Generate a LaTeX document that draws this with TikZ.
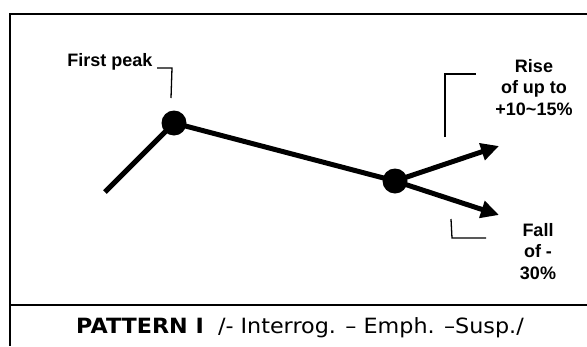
\documentclass[tikz,border=0pt]{standalone}
\usepackage{fontspec}
\newfontfamily\labelfont{Liberation Sans}
\newfontfamily\capfont{DejaVu Sans}[FakeStretch=1.06]
\usetikzlibrary{arrows.meta}
\begin{document}
\begin{tikzpicture}[x=1pt,y=-1pt,
  frame/.style={line width=1.6pt},
  curve/.style={line width=5pt},
  dot/.style={circle,fill=black,minimum size=25pt,inner sep=0pt},
  bracket/.style={line width=1.3pt},
  lbl/.style={font=\labelfont\bfseries\fontsize{18}{21.5}\selectfont, align=center, inner sep=0pt},
  tip/.style={-{Triangle[length=18pt,width=17pt]}}
]
\useasboundingbox (0,0) rectangle (587,346);
% frame
\coordinate (ftr) at (587,14);
\coordinate (ftl) at (10,14);
\coordinate (fbl) at (10,346);
\coordinate (dl) at (10,305);
\coordinate (dr) at (587,305);
\draw[frame] (ftr) -- (ftl) -- (fbl);
\draw[frame] (dl) -- (dr);
% curve
\node[dot] (peak) at (174,123) {};
\node[dot] (turn) at (395,181) {};
\coordinate (start) at (105,192);
\coordinate (riseend) at (499,146);
\coordinate (fallend) at (499,215);
\draw[curve] (start) -- (peak.center) -- (turn.center);
\draw[curve,tip] (turn.center) -- (riseend);
\draw[curve,tip] (turn.center) -- (fallend);
% labels
\node[lbl,anchor=base] (firstpeak) at (110,66) {First peak};
\node[lbl,anchor=base] (rise) at (534,115) {Rise\\of up to\\+10\textasciitilde15\%};
\node[lbl,anchor=base] (fall) at (538,279) {Fall\\of -\\30\%};
% brackets
\coordinate (b1a) at (157,68);
\coordinate (b1b) at (172,68);
\coordinate (b1c) at (171,98);
\draw[bracket] (b1a) -- (b1b) -- (b1c);
\coordinate (b2a) at (445,137);
\coordinate (b2b) at (445,74);
\coordinate (b2c) at (476,74);
\draw[bracket] (b2a) -- (b2b) -- (b2c);
\coordinate (b3a) at (451,219);
\coordinate (b3b) at (452,238);
\coordinate (b3c) at (486,238);
\draw[bracket] (b3a) -- (b3b) -- (b3c);
% caption
\node[anchor=base, inner sep=0pt, font=\capfont\fontsize{21}{24}\selectfont] (caption) at (300,333) {\textbf{PATTERN I}\ \ /- Interrog. – Emph. –Susp./};
\end{tikzpicture}
\end{document}
